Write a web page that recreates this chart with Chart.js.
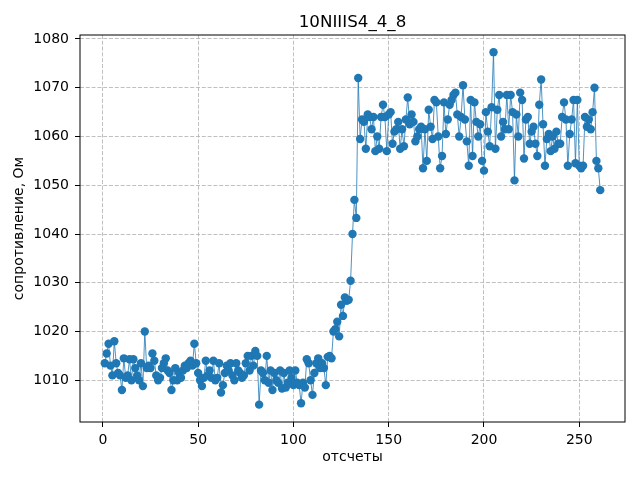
<!DOCTYPE html>
<html>
<head>
<meta charset="utf-8">
<title>10NIIIS4_4_8</title>
<script src="https://cdn.jsdelivr.net/npm/chart.js@4.4.1/dist/chart.umd.min.js"></script>
<style>
  html, body { margin: 0; padding: 0; background: #fff; }
  canvas { display: block; }
</style>
</head>
<body>
<canvas id="chart" width="640" height="480"></canvas>
<script>
// ---- data (sample number starts at 1) ----
const CHART_TITLE = "10NIIIS4_4_8";
const X_LABEL = "отсчеты";
const Y_LABEL = "сопротивление, Ом";

// samples 1..118, before the jump
const lowPhase = [
  1013.5, 1015.5, 1017.5, 1013, 1011, 1018, 1013.5, 1011.5, 1011, 1008,
  1014.5, 1010.5, 1011, 1014.3, 1010, 1014.3, 1012.5, 1011, 1010, 1013.5,
  1008.8, 1020, 1012.5, 1013, 1012.5, 1015.5, 1014, 1011, 1010, 1010.5,
  1012.5, 1013.5, 1014.5, 1012, 1011.5, 1008, 1010, 1012.5, 1010, 1011.5,
  1010.5, 1012, 1013, 1012.5, 1013.5, 1014, 1013, 1017.5, 1013.5, 1011.5,
  1010, 1008.8, 1010.5, 1014, 1011, 1012, 1010.5, 1014, 1010, 1010.5,
  1013.5, 1007.5, 1009, 1011.5, 1013, 1012, 1013.5, 1011, 1010, 1013.5,
  1012, 1011.5, 1010.5, 1011, 1013.5, 1015, 1012, 1015, 1013, 1016,
  1015, 1005, 1012, 1011.5, 1010, 1015, 1009.5, 1012, 1008, 1011.5,
  1010, 1009.5, 1012, 1008.3, 1011.5, 1008.5, 1009.5, 1012, 1010.5, 1009,
  1012, 1009.5, 1009, 1005.3, 1009.5, 1008.5, 1014.3, 1013.5, 1010, 1007,
  1011.5, 1013.5, 1014.5, 1012.5, 1013.5, 1012.5, 1009, 1014.8,
];

// samples 119..133, the transition
const risePhase = [
  1015, 1014.5, 1020, 1020.5, 1022, 1019, 1025.5, 1023.2, 1027, 1026.3,
  1026.5, 1030.4, 1040, 1047, 1043.3,
];

// samples 134..261, after the jump
const highPhase = [
  1072, 1059.5, 1063.5, 1063, 1057.5, 1064.5, 1064, 1061.5, 1064, 1057,
  1060, 1057.5, 1064, 1066.5, 1064, 1057, 1064.5, 1065, 1058.5, 1061,
  1061.5, 1063, 1057.5, 1061.5, 1058, 1063.5, 1068, 1062.5, 1064.5, 1063,
  1059, 1060, 1061.5, 1062, 1053.5, 1061.5, 1055, 1065.5, 1062, 1059.5,
  1067.5, 1067, 1060, 1053.5, 1056, 1067, 1060.5, 1063.5, 1066.5, 1067.5,
  1068.5, 1069, 1064.5, 1060, 1064, 1070.5, 1063.5, 1059, 1054, 1067.5,
  1056, 1067, 1063, 1060, 1062.5, 1055, 1053, 1065, 1061, 1058,
  1066, 1077.3, 1057.5, 1065.5, 1068.5, 1060, 1063, 1061.5, 1068.5, 1061.5,
  1068.5, 1065, 1051, 1064.5, 1060, 1069, 1067.5, 1055.5, 1063.5, 1064,
  1058.5, 1061, 1062, 1058.5, 1056, 1066.5, 1071.7, 1062.5, 1054, 1059.5,
  1060.5, 1057, 1060, 1057.5, 1061, 1058.5, 1058.5, 1064, 1067, 1063.5,
  1054, 1060.5, 1063.5, 1067.5, 1054.5, 1067.5, 1054, 1053.5, 1054, 1064,
  1062, 1063.5, 1061.5, 1065, 1070, 1055, 1053.5, 1049,
];

const resistance = [...lowPhase, ...risePhase, ...highPhase];

// axis view limits and ticks, as in the reference
const X_MIN = -12, X_MAX = 274, X_STEP = 50;
const Y_MIN = 1001.44, Y_MAX = 1080.82, Y_STEP = 10;

const BLUE = "#1f77b4";
const FONT = "'DejaVu Sans', 'Liberation Sans', sans-serif";

Chart.defaults.font.family = FONT;
Chart.defaults.font.size = 14;
Chart.defaults.color = "#000";

// frame on all four sides + the title centred over the axes
const framePlugin = {
  id: "frame",
  afterDraw(chart) {
    const {ctx, chartArea: a} = chart;
    ctx.save();
    ctx.strokeStyle = "#000";
    ctx.lineWidth = 1;
    ctx.strokeRect(a.left, a.top, a.right - a.left, a.bottom - a.top);
    ctx.fillStyle = "#000";
    ctx.font = "16.7px " + FONT;
    ctx.textAlign = "center";
    ctx.textBaseline = "alphabetic";
    ctx.fillText(CHART_TITLE, (a.left + a.right) / 2, a.top - 8.5);
    ctx.restore();
  },
};

function gridOpts() {
  return {
    color: "#b0b0b0",
    lineWidth: 0.8,
    drawTicks: true,
    tickLength: 5,
    tickColor: "#000",
    tickWidth: 1,
  };
}

const points = resistance.map((v, i) => ({x: i + 1, y: v}));

new Chart(document.getElementById("chart").getContext("2d"), {
  type: "scatter",
  data: {
    datasets: [{
      data: points,
      showLine: true,
      borderColor: BLUE,
      borderWidth: 0.8,
      backgroundColor: BLUE,
      pointBackgroundColor: BLUE,
      pointBorderWidth: 0,
      pointRadius: 4.2,
      pointHoverRadius: 4.2,
    }],
  },
  options: {
    responsive: false,
    animation: false,
    devicePixelRatio: 1,
    layout: { padding: { top: 35, right: 15, left: 0, bottom: 0 } },
    plugins: { legend: { display: false }, tooltip: { enabled: false } },
    scales: {
      x: {
        type: "linear",
        min: X_MIN, max: X_MAX,
        afterFit: s => { s.height = 58; },
        ticks: { stepSize: X_STEP, includeBounds: false, padding: 5, maxRotation: 0,
                 callback: v => String(v) },
        grid: gridOpts(),
        border: { display: false, dash: [4, 1.8] },
        title: { display: true, text: X_LABEL, padding: { top: 0, bottom: 14 } },
      },
      y: {
        min: Y_MIN, max: Y_MAX,
        afterFit: s => { s.width = 80; },
        ticks: { stepSize: Y_STEP, includeBounds: false, padding: 6,
                 callback: v => String(v) },
        grid: gridOpts(),
        border: { display: false, dash: [4, 1.8] },
        title: { display: true, text: Y_LABEL, padding: { top: 11, bottom: 0 } },
      },
    },
  },
  plugins: [framePlugin],
});
</script>
</body>
</html>
